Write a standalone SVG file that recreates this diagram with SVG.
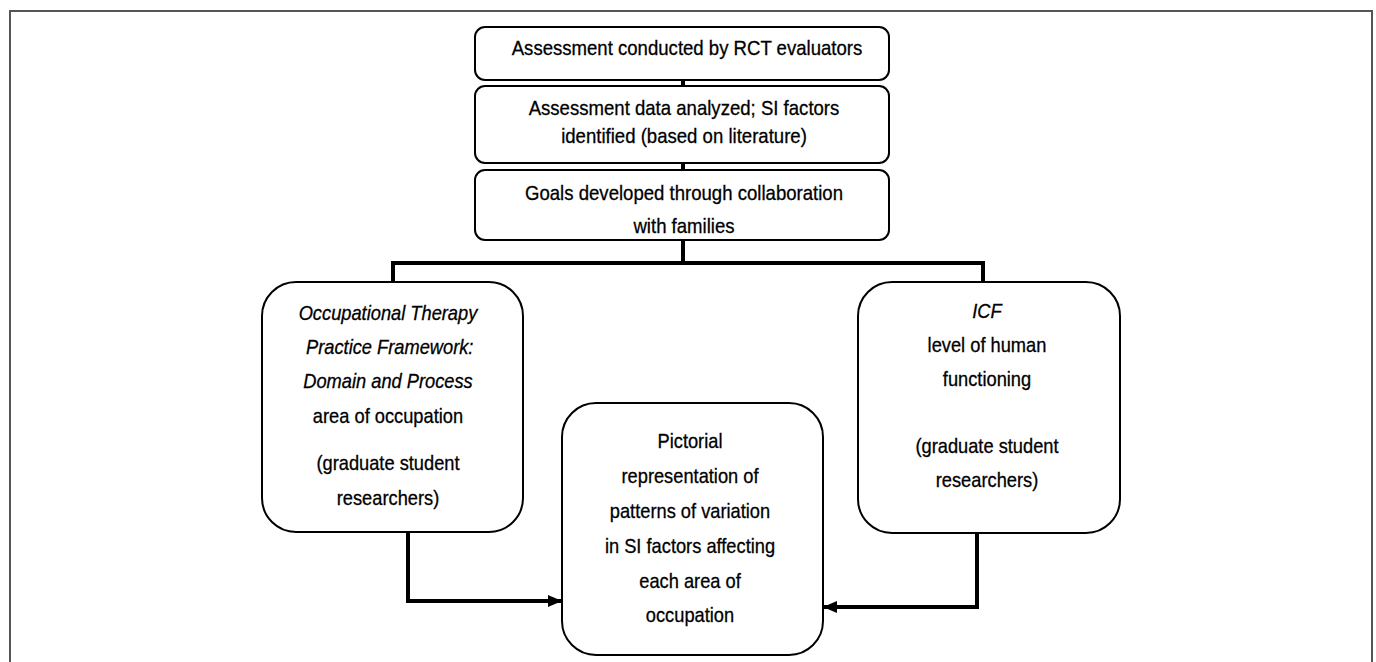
<svg xmlns="http://www.w3.org/2000/svg" width="1376" height="662" viewBox="0 0 1376 662">
<style>
.box{fill:#fff;stroke:#000;stroke-width:2}
.conn{fill:none;stroke:#000;stroke-width:4}
text{font-family:"Liberation Sans",Arial,sans-serif;font-size:21px;fill:#000;stroke:#000;stroke-width:0.3;text-anchor:middle}
.it{font-style:italic}
</style>
<defs>
<marker id="ah" markerWidth="14" markerHeight="12" refX="13" refY="6" orient="auto" markerUnits="userSpaceOnUse">
<path d="M0,0 L14,6 L0,12 Z" fill="#000"/>
</marker>
</defs>
<rect x="0" y="0" width="1376" height="662" fill="#fff"/>
<rect x="10" y="11" width="1362" height="700" fill="none" stroke="#555" stroke-width="2"/>
<g id="connectors">
<line class="conn" x1="683" y1="80" x2="683" y2="86" stroke-width="3"/>
<line class="conn" x1="683" y1="163" x2="683" y2="170" stroke-width="3"/>
<path class="conn" d="M683,240 V263 M393,282 V263 H983 V282"/>
<path class="conn" d="M408,532 V601 H561" marker-end="url(#ah)"/>
<path class="conn" d="M977,533 V607 H824" marker-end="url(#ah)"/>
</g>
<g id="n1">
<rect class="box" x="475" y="27" width="414" height="53" rx="10"/>
<g transform="translate(687,0) scale(0.885,1)">
<text x="0" y="55">Assessment conducted by RCT evaluators</text>
</g>
</g>
<g id="n2">
<rect class="box" x="475" y="86" width="414" height="77" rx="10"/>
<g transform="translate(684,0) scale(0.885,1)">
<text x="0" y="115">Assessment data analyzed; SI factors</text>
<text x="0" y="143">identified (based on literature)</text>
</g>
</g>
<g id="n3">
<rect class="box" x="475" y="170" width="414" height="70" rx="10"/>
<g transform="translate(684,0) scale(0.885,1)">
<text x="0" y="200">Goals developed through collaboration</text>
<text x="0" y="233">with families</text>
</g>
</g>
<g id="n4">
<rect class="box" x="262" y="282" width="261" height="250" rx="34"/>
<g transform="translate(388,0) scale(0.87,1)">
<text class="it" x="0" y="320">Occupational Therapy</text>
<text class="it" x="2" y="354">Practice Framework:</text>
<text class="it" x="0" y="388">Domain and Process</text>
<text x="0" y="423">area of occupation</text>
<text x="0" y="470">(graduate student</text>
<text x="0" y="505">researchers)</text>
</g>
</g>
<g id="n5">
<rect class="box" x="562" y="403" width="261" height="252" rx="34"/>
<g transform="translate(690,0) scale(0.87,1)">
<text x="0" y="448">Pictorial</text>
<text x="0" y="483">representation of</text>
<text x="0" y="518">patterns of variation</text>
<text x="0" y="553">in SI factors affecting</text>
<text x="0" y="588">each area of</text>
<text x="0" y="622">occupation</text>
</g>
</g>
<g id="n6">
<rect class="box" x="858" y="282" width="262" height="251" rx="34"/>
<g transform="translate(987,0) scale(0.87,1)">
<text class="it" x="0" y="318">ICF</text>
<text x="0" y="352">level of human</text>
<text x="0" y="386">functioning</text>
<text x="0" y="453">(graduate student</text>
<text x="0" y="487">researchers)</text>
</g>
</g>
</svg>
